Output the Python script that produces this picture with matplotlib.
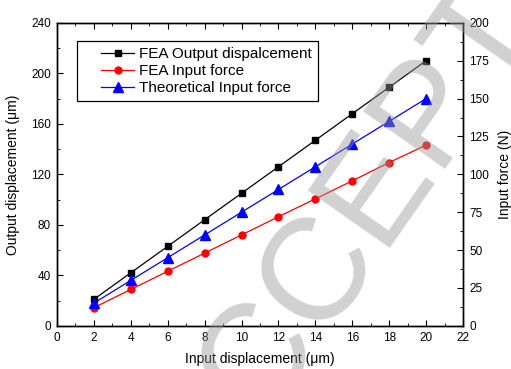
import numpy as np
import matplotlib.pyplot as plt
from matplotlib.ticker import MultipleLocator
from matplotlib.legend_handler import HandlerLine2D

plt.rcParams['font.family'] = ['Liberation Sans', 'DejaVu Sans']

# data
x_in = [2, 4, 6, 8, 10, 12, 14, 16, 18, 20]
fea_out = [21, 42, 63, 84, 105, 126, 147, 168, 189, 210]
fea_force = [12, 24, 36, 48, 60, 72, 83.8, 95.7, 107.8, 119.3]
theo_force = [15, 30, 45, 60, 75, 90, 105, 120, 135, 150]

fig = plt.figure(figsize=(5.11, 3.69), dpi=100)
ax = fig.add_axes([0.1115, 0.117, 0.7945, 0.821])
ax2 = ax.twinx()

l1, = ax.plot(x_in, fea_out, color='black', marker='s', ms=4.5, lw=0.9,
              label='FEA Output dispalcement')
l2, = ax2.plot(x_in, fea_force, color='red', marker='o', ms=5, lw=0.9,
               label='FEA Input force')
l3, = ax2.plot(x_in, theo_force, color='blue', marker='^', ms=6.5, lw=0.9,
               label='Theoretical Input force')

ax.set_xlim(0, 22)
ax.set_ylim(0, 240)
ax2.set_ylim(0, 200)
ax.xaxis.set_major_locator(MultipleLocator(2))
ax.xaxis.set_minor_locator(MultipleLocator(1))
ax.yaxis.set_major_locator(MultipleLocator(40))
ax.yaxis.set_minor_locator(MultipleLocator(20))
ax2.yaxis.set_major_locator(MultipleLocator(25))
ax2.yaxis.set_minor_locator(MultipleLocator(12.5))

ax.tick_params(which='both', direction='in', top=True, labelsize=8.5, pad=4.5)
ax.tick_params(which='major', length=4)
ax.tick_params(which='minor', length=2)
ax2.tick_params(which='both', direction='in', labelsize=8.5, pad=4.5)
ax2.tick_params(which='major', length=4)
ax2.tick_params(which='minor', length=2)
for a in (ax, ax2):
    for s in a.spines.values():
        s.set_linewidth(1.0)

ax.set_xlabel('Input displacement (\u03bcm)', fontsize=10, labelpad=6)
ax.set_ylabel('Output displacement (\u03bcm)', fontsize=10, labelpad=8)
ax2.set_ylabel('Input force (N)', fontsize=10, rotation=90, labelpad=6.5)

hl = HandlerLine2D(xpad=1.2)
leg = ax.legend(handles=[l1, l2, l3], loc='upper left',
                bbox_to_anchor=(0.049, 0.94), fontsize=11, frameon=True,
                fancybox=False, edgecolor='black', framealpha=1,
                handlelength=3.36, labelspacing=0.2, borderpad=0.4,
                handletextpad=0.3, borderaxespad=0,
                handler_map={l1: hl, l2: hl, l3: hl})
leg.get_frame().set_linewidth(0.9)

# watermark
fig.text(0.79, 0.56, 'ACCEPTED', fontsize=104, color='#9a9a9a', alpha=0.45,
         rotation=55, ha='center', va='center', zorder=10)

fig.savefig('out.png', dpi=100)
